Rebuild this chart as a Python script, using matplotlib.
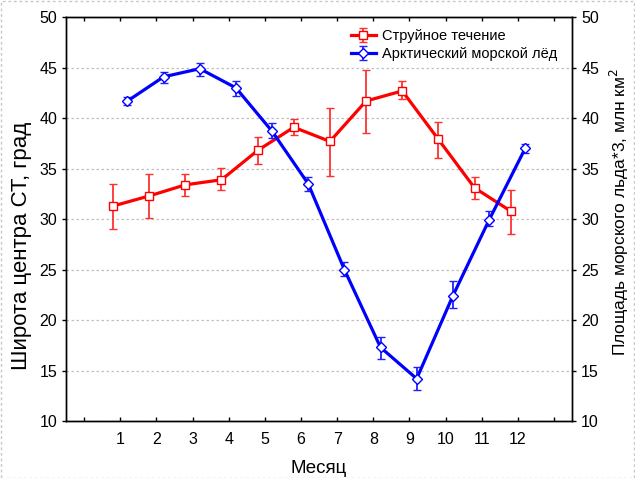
import matplotlib
matplotlib.use("Agg")
import matplotlib.pyplot as plt
from matplotlib.patches import Rectangle

plt.rcParams['font.family'] = ['Liberation Sans', 'DejaVu Sans']

months = [1, 2, 3, 4, 5, 6, 7, 8, 9, 10, 11, 12]
month_ticks = list(range(0, 14))
month_labels = [''] + [str(m) for m in months] + ['']

jet_lat = [31.3, 32.3, 33.4, 33.9, 36.8, 39.1, 37.7, 41.7, 42.7, 37.9, 33.1, 30.8]
jet_lo = [29.0, 30.1, 32.3, 32.9, 35.5, 38.3, 34.3, 38.5, 41.9, 36.1, 32.0, 28.5]
jet_hi = [33.5, 34.5, 34.5, 35.1, 38.1, 39.9, 41.0, 44.8, 43.7, 39.6, 34.2, 32.9]

ice = [41.7, 44.1, 44.9, 43.0, 38.7, 33.5, 25.0, 17.3, 14.2, 22.4, 29.9, 37.0]
ice_lo = [41.3, 43.5, 44.2, 42.2, 38.0, 32.8, 24.4, 16.2, 13.1, 21.2, 29.3, 36.6]
ice_hi = [42.1, 44.6, 45.5, 43.7, 39.5, 34.2, 25.8, 18.3, 15.4, 23.9, 30.8, 37.4]

yticks = [10, 15, 20, 25, 30, 35, 40, 45, 50]

fig = plt.figure(figsize=(6.35, 4.78), dpi=100)
fig.patches.append(Rectangle((0.001, 0.001), 0.998, 0.997, transform=fig.transFigure,
                             fill=False, edgecolor='#c8c8c8', linestyle=(0, (2, 2)), lw=1))
ax = fig.add_axes([0.104, 0.119, 0.797, 0.845])
ax2 = ax.twinx()

off = 0.2
xr = [m - off for m in months]
xb = [m + off for m in months]

jet_err = [[v - l for v, l in zip(jet_lat, jet_lo)], [h - v for v, h in zip(jet_lat, jet_hi)]]
ice_err = [[v - l for v, l in zip(ice, ice_lo)], [h - v for v, h in zip(ice, ice_hi)]]

h1 = ax.errorbar(xr, jet_lat, yerr=jet_err, color='#ff0000', lw=2.3, marker='s', ms=6,
                 mfc='white', mec='#ff0000', mew=1.0, ecolor='#ff3030', elinewidth=1.3,
                 capsize=3.2, capthick=1.3, label='Струйное течение', zorder=3)
h2 = ax2.errorbar(xb, ice, yerr=ice_err, color='#0000ff', lw=2.3, marker='D', ms=5.5,
                  mfc='white', mec='#0000ff', mew=1.0, ecolor='#2020ff', elinewidth=1.3,
                  capsize=3.2, capthick=1.3, label='Арктический морской лёд', zorder=3)

for a in (ax, ax2):
    a.set_ylim(10, 50)
    a.set_yticks(yticks)
    a.set_xlim(-0.5, 13.5)
ax.set_xticks(month_ticks)
ax.set_xticklabels(month_labels)
ax.tick_params(axis='x', direction='in', length=3, top=True, labelsize=11.5, pad=8, width=1)
ax.tick_params(axis='y', direction='out', length=3, labelsize=11.5, width=1)
ax2.tick_params(axis='y', direction='out', length=3, labelsize=11.5, width=1)
ax.yaxis.grid(True, color='#c0c0c0', linestyle=(0, (2, 2)), lw=0.9)
ax.set_axisbelow(True)

ax.set_ylabel('Широта центра СТ, град', fontsize=16)
ax.yaxis.set_label_coords(-0.068, 0.434)
ax2.set_ylabel('Площадь морского льда*3, млн км$^2$', fontsize=12.5)
ax2.yaxis.set_label_coords(1.071, 0.519)
ax.set_xlabel('Месяц', fontsize=13.5, labelpad=9)

for a in (ax, ax2):
    for s in a.spines.values():
        s.set_linewidth(1.0)

ax2.legend([h1, h2], ['Струйное течение', 'Арктический морской лёд'], loc='upper left',
           bbox_to_anchor=(0.563, 0.971), frameon=False, fontsize=10.5, handlelength=1.7,
           handletextpad=0.4, borderpad=0.0, borderaxespad=0.0, labelspacing=0.3)

fig.savefig('out.png', dpi=100)
